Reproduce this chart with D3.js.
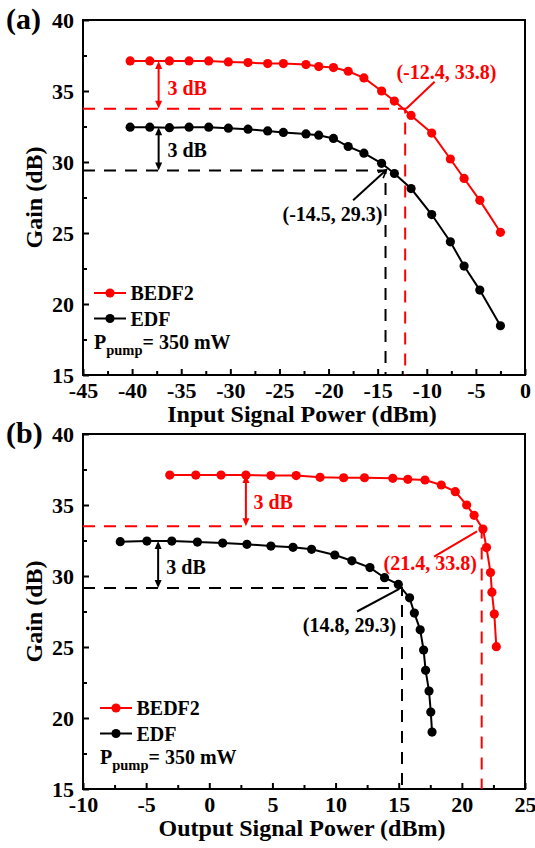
<!DOCTYPE html>
<html>
<head>
<meta charset="utf-8">
<title>Gain vs signal power</title>
<script src="https://cdnjs.cloudflare.com/ajax/libs/d3/7.8.5/d3.min.js"></script>
<style>
  body { margin: 0; background: #fff; }
  svg text { font-family: "Liberation Serif", "Times New Roman", serif; font-weight: bold; }
</style>
</head>
<body>
<svg id="chart" width="535" height="848"></svg>
<script>
// ---- data ----
var inputPower   = [-40.2, -38.2, -36.2, -34.2, -32.2, -30.2, -28.2, -26.2, -24.6, -22.3, -21.0, -19.5, -18.0, -16.4, -14.6, -13.3, -11.6, -9.5, -7.6, -6.2, -4.6, -2.5];
var gainInBEDF2  = [37.12, 37.12, 37.12, 37.12, 37.12, 37.05, 37.0, 36.93, 36.93, 36.86, 36.72, 36.65, 36.39, 35.92, 35.0, 34.29, 33.28, 32.04, 30.21, 28.84, 27.3, 25.05];
var gainInEDF    = [32.45, 32.45, 32.42, 32.45, 32.45, 32.38, 32.31, 32.19, 32.08, 31.98, 31.89, 31.66, 31.09, 30.62, 29.91, 29.19, 28.13, 26.3, 24.38, 22.67, 20.98, 18.47];

var outPowerBEDF2 = [-3.13, -1.07, 0.93, 2.9, 4.88, 6.88, 8.77, 10.64, 12.29, 14.53, 15.72, 17.08, 18.37, 19.48, 20.38, 20.97, 21.67, 21.95, 22.27, 22.38, 22.57, 22.73];
var gainOutBEDF2  = [37.11, 37.11, 37.11, 37.11, 37.07, 37.07, 36.95, 36.92, 36.92, 36.88, 36.81, 36.76, 36.41, 35.94, 35.0, 34.27, 33.31, 32.0, 30.24, 28.86, 27.32, 25.02];
var outPowerEDF   = [-7.05, -4.94, -2.97, -0.94, 1.06, 2.98, 4.88, 6.63, 8.1, 9.94, 11.29, 12.72, 13.88, 14.97, 15.86, 16.24, 16.7, 16.97, 17.13, 17.4, 17.54, 17.64];
var gainOutEDF    = [32.42, 32.46, 32.46, 32.39, 32.32, 32.23, 32.11, 32.02, 31.88, 31.48, 31.07, 30.59, 29.88, 29.41, 28.46, 27.39, 26.21, 24.79, 23.36, 21.9, 20.42, 19.01];

var xTicksIn  = [-45, -40, -35, -30, -25, -20, -15, -10, -5, 0];
var xTicksOut = [-10, -5, 0, 5, 10, 15, 20, 25];
var yTicks    = [15, 20, 25, 30, 35, 40];

var seriesNames = ["BEDF2", "EDF"];
var colors = { BEDF2: "#ff0000", EDF: "#000000" };

var svg = d3.select("#chart");

function doubleArrow(g, x, y1, y2, col) {
  var h = 8, w = 3.5;
  g.append("line").attr("x1", x).attr("x2", x).attr("y1", y1 + h - 1).attr("y2", y2 - h + 1)
    .attr("stroke", col).attr("stroke-width", 2);
  g.append("path").attr("d", "M" + x + "," + y1 + "L" + (x - w) + "," + (y1 + h) + "L" + (x + w) + "," + (y1 + h) + "Z").attr("fill", col);
  g.append("path").attr("d", "M" + x + "," + y2 + "L" + (x - w) + "," + (y2 - h) + "L" + (x + w) + "," + (y2 - h) + "Z").attr("fill", col);
}

function drawPanel(cfg) {
  var L = 83, R = 525, T = cfg.top, B = cfg.top + 355;
  var x = d3.scaleLinear().domain(cfg.xDomain).range([L, R]);
  var y = d3.scaleLinear().domain([15, 40]).range([B, T]);
  var g = svg.append("g");

  // minor ticks
  var xMinor = d3.range(cfg.xDomain[0] + 2.5, cfg.xDomain[1], 5);
  g.append("g").attr("transform", "translate(0," + B + ")")
    .call(d3.axisBottom(x).tickValues(xMinor).tickSize(-4).tickFormat(""));
  g.append("g").attr("transform", "translate(" + L + ",0)")
    .call(d3.axisLeft(y).tickValues([17.5, 22.5, 27.5, 32.5, 37.5]).tickSize(-4).tickFormat(""));
  // major ticks
  g.append("g").attr("class", "xaxis").attr("transform", "translate(0," + B + ")")
    .call(d3.axisBottom(x).tickValues(cfg.xTicks).tickSize(-6).tickPadding(7).tickFormat(d3.format("d")));
  g.append("g").attr("class", "yaxis").attr("transform", "translate(" + L + ",0)")
    .call(d3.axisLeft(y).tickValues(yTicks).tickSize(-6).tickPadding(9).tickFormat(d3.format("d")));
  g.selectAll(".domain").remove();
  g.selectAll(".tick line").attr("stroke-width", 2);
  g.selectAll(".tick text").attr("font-size", 22).attr("fill", "#000");
  g.selectAll(".tick text").text(function () { return this.textContent.replace("\u2212", "-"); });

  // frame
  g.append("rect").attr("x", L).attr("y", T).attr("width", R - L).attr("height", B - T)
    .attr("fill", "none").attr("stroke", "#000").attr("stroke-width", 2);

  // dashed guide lines
  cfg.guides.forEach(function (d) {
    var col = colors[d.s];
    g.append("path")
      .attr("d", "M" + L + "," + y(d.gy) + "H" + x(d.gx) + "V" + B)
      .attr("fill", "none").attr("stroke", col).attr("stroke-width", 2)
      .attr("stroke-dasharray", "12,9");
  });

  // series
  cfg.series.forEach(function (s) {
    var pts = s.xs.map(function (v, i) { return [v, s.ys[i]]; });
    g.append("path").datum(pts)
      .attr("d", d3.line().x(function (d) { return x(d[0]); }).y(function (d) { return y(d[1]); }))
      .attr("fill", "none").attr("stroke", colors[s.name]).attr("stroke-width", 2);
    g.selectAll(null).data(pts).enter().append("circle")
      .attr("cx", function (d) { return x(d[0]); })
      .attr("cy", function (d) { return y(d[1]); })
      .attr("r", 4.6).attr("fill", colors[s.name]);
  });

  // 3 dB arrows
  cfg.arrows.forEach(function (a) {
    var col = colors[a.s];
    doubleArrow(g, x(a.x), y(a.y1), y(a.y2), col);
    g.append("text").attr("x", x(a.tx)).attr("y", y(a.ty) + 7)
      .attr("font-size", 20).attr("fill", col).text("3 dB");
  });

  // coordinate callouts
  cfg.notes.forEach(function (n) {
    var col = colors[n.s];
    g.append("line").attr("x1", x(n.l[0])).attr("y1", y(n.l[1]))
      .attr("x2", x(n.l[2])).attr("y2", y(n.l[3]))
      .attr("stroke", col).attr("stroke-width", 2);
    if (n.head) {
      var x2 = x(n.l[2]), y2 = y(n.l[3]);
      var ang = Math.atan2(y2 - y(n.l[1]), x2 - x(n.l[0]));
      var hl = 9, hw = 0.45;
      g.append("path")
        .attr("d", "M" + (x2 - hl * Math.cos(ang - hw)) + "," + (y2 - hl * Math.sin(ang - hw)) +
          "L" + x2 + "," + y2 + "L" + (x2 - hl * Math.cos(ang + hw)) + "," + (y2 - hl * Math.sin(ang + hw)))
        .attr("fill", "none").attr("stroke", col).attr("stroke-width", 1.6);
    }
    g.append("text").attr("x", x(n.tx)).attr("y", y(n.ty) + 7)
      .attr("text-anchor", "middle").attr("font-size", 20).attr("fill", col).text(n.text);
  });

  // legend
  var lg = g.append("g").attr("transform", "translate(" + cfg.legend[0] + "," + cfg.legend[1] + ")");
  seriesNames.forEach(function (nm, i) {
    var yy = i * 25.5;
    lg.append("line").attr("x1", 0).attr("x2", 32).attr("y1", yy).attr("y2", yy)
      .attr("stroke", colors[nm]).attr("stroke-width", 2);
    lg.append("circle").attr("cx", 16).attr("cy", yy).attr("r", 4.6).attr("fill", colors[nm]);
    lg.append("text").attr("x", 36.5).attr("y", yy + 7).attr("font-size", 20).attr("fill", "#000").text(nm);
  });
  var pt = lg.append("text").attr("x", 0).attr("y", 56).attr("font-size", 20).attr("fill", "#000");
  pt.append("tspan").text("P");
  pt.append("tspan").attr("font-size", 14.5).attr("dy", 6).text("pump");
  pt.append("tspan").attr("dy", -6).text("= 350 mW");

  // axis titles
  svg.append("text").attr("x", (L + R) / 2 - 2).attr("y", B + 47).attr("text-anchor", "middle")
    .attr("font-size", 24).attr("fill", "#000").text(cfg.xTitle);
  svg.append("text").attr("transform", "translate(42," + ((T + B) / 2) + ") rotate(-90)")
    .attr("text-anchor", "middle").attr("font-size", 24).attr("fill", "#000").text("Gain (dB)");
  svg.append("text").attr("x", 6).attr("y", T + 9).attr("font-size", 30).attr("fill", "#000").text(cfg.tag);
}

drawPanel({
  top: 20, tag: "(a)", xDomain: [-45, 0], xTicks: xTicksIn, xTitle: "Input Signal Power (dBm)",
  series: [
    { name: "BEDF2", xs: inputPower, ys: gainInBEDF2 },
    { name: "EDF", xs: inputPower, ys: gainInEDF }
  ],
  guides: [{ s: "BEDF2", gx: -12.2, gy: 33.75 }, { s: "EDF", gx: -14.2, gy: 29.4 }],
  arrows: [
    { s: "BEDF2", x: -37.3, y1: 37.12, y2: 33.75, tx: -36.4, ty: 35.2 },
    { s: "EDF", x: -37.3, y1: 32.45, y2: 29.4, tx: -36.4, ty: 30.85 }
  ],
  notes: [
    { s: "BEDF2", text: "(-12.4, 33.8)", tx: -8.0, ty: 36.35, l: [-12.1, 33.75, -9.2, 35.65] },
    { s: "EDF", text: "(-14.5, 29.3)", tx: -19.6, ty: 26.35, l: [-17.5, 27.3, -14.1, 29.45], head: true }
  ],
  legend: [94, 293]
});

drawPanel({
  top: 434, tag: "(b)", xDomain: [-10, 25], xTicks: xTicksOut, xTitle: "Output Signal Power (dBm)",
  series: [
    { name: "BEDF2", xs: outPowerBEDF2, ys: gainOutBEDF2 },
    { name: "EDF", xs: outPowerEDF, ys: gainOutEDF }
  ],
  guides: [{ s: "BEDF2", gx: 21.57, gy: 33.5 }, { s: "EDF", gx: 15.26, gy: 29.15 }],
  arrows: [
    { s: "BEDF2", x: 2.9, y1: 37.11, y2: 33.5, tx: 3.5, ty: 35.23 },
    { s: "EDF", x: -4.05, y1: 32.46, y2: 29.15, tx: -3.4, ty: 30.6 }
  ],
  notes: [
    { s: "BEDF2", text: "(21.4, 33.8)", tx: 17.5, ty: 30.95, l: [17.8, 31.36, 21.2, 33.15] },
    { s: "EDF", text: "(14.8, 29.3)", tx: 11.1, ty: 26.56, l: [11.7, 27.5, 15.05, 29.1] }
  ],
  legend: [100, 708]
});
</script>
</body>
</html>
